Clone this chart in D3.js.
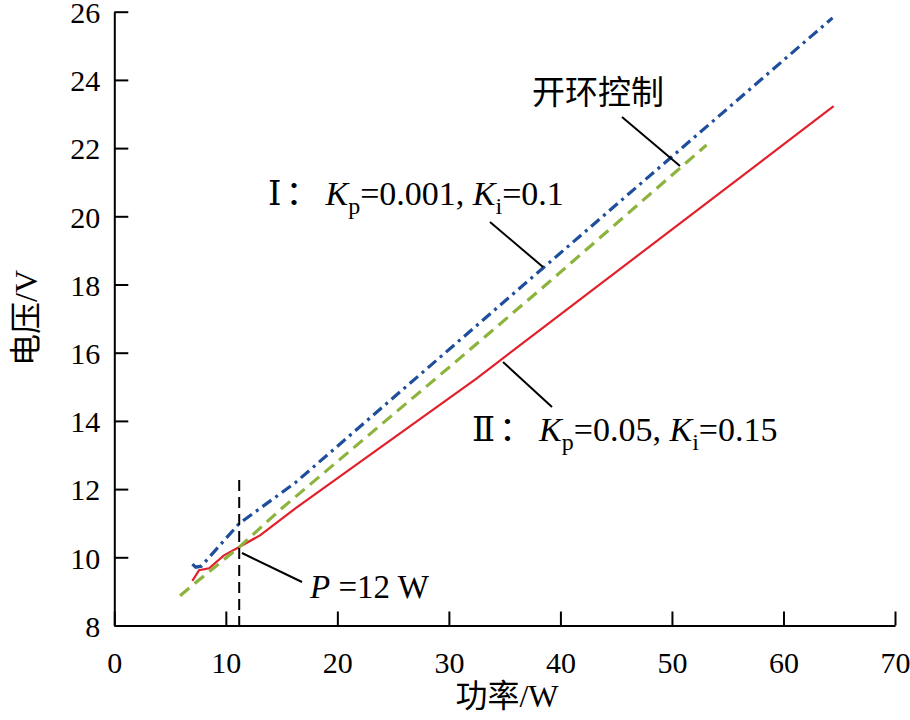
<!DOCTYPE html>
<html><head><meta charset="utf-8">
<script src="https://cdn.jsdelivr.net/npm/d3@7"></script>
<style>body{margin:0;background:#fff}
.serif{font-family:"Liberation Serif","Times New Roman",serif}
.cjk{font-family:"Noto Sans CJK SC",sans-serif}
.rom{font-family:"DejaVu Serif","Liberation Serif",serif}
</style>
</head><body><svg id="c" width="910" height="720"></svg>
<script>
// ---- data ----
const xTicks = [0,10,20,30,40,50,60,70];
const yTicks = [8,10,12,14,16,18,20,22,24,26];
const openLoopX = [5.9, 6.8, 11.2, 15.0, 30.7, 38.8, 53.1];
const openLoopY = [8.87, 9.12, 10.3, 11.43, 15.76, 18.02, 22.09];
const pid1X = [7.0, 7.3, 7.8, 11.2, 16.2, 38.5, 64.4];
const pid1Y = [9.80, 9.71, 9.74, 10.99, 12.18, 18.5, 25.82];
const pid2X = [7.0, 7.6, 8.5, 9.8, 11.2, 13.1, 16.3, 32.5, 64.5];
const pid2Y = [9.31, 9.62, 9.68, 10.05, 10.3, 10.65, 11.45, 15.25, 23.23];
const markerP = 11.2, markerTop = 12.27;

const svg = d3.select("#c");
const x = d3.scaleLinear().domain([0,70]).range([114.3,895]);
const y = d3.scaleLinear().domain([8,26]).range([625.5,11.7]);

// axes
const xa = svg.append("g").attr("transform",`translate(0,${y(8)})`)
  .call(d3.axisBottom(x).tickValues(xTicks).tickSizeInner(-14).tickSizeOuter(0).tickPadding(26).tickFormat(d3.format("d")));
const ya = svg.append("g").attr("transform",`translate(${x(0)},0)`)
  .call(d3.axisLeft(y).tickValues(yTicks).tickSizeInner(-14).tickSizeOuter(0).tickPadding(14).tickFormat(d3.format("d")));
[xa,ya].forEach(a=>{
  a.attr("font-family",null).attr("font-size",null);
  a.select(".domain").attr("stroke","#000").attr("stroke-width",2);
  a.selectAll(".tick line").attr("stroke","#000").attr("stroke-width",2);
  a.selectAll(".tick text").attr("class","serif").style("font-size","30px").attr("fill","#000");
});
ya.selectAll(".tick text").attr("dy","0.36em");
xa.selectAll(".tick text").attr("dy","0.71em");

// lines
const line = d3.line().x(d=>x(d[0])).y(d=>y(d[1]));
const zip = (a,b)=>a.map((v,i)=>[v,b[i]]);
svg.append("path").datum(zip(pid2X,pid2Y)).attr("d",line)
  .attr("fill","none").attr("stroke","#e2202b").attr("stroke-width",2.2);
svg.append("path").datum(zip(openLoopX,openLoopY)).attr("d",line)
  .attr("fill","none").attr("stroke","#8cb43c").attr("stroke-width",3.2).attr("stroke-dasharray","12,7");
svg.append("path").datum(zip(pid1X,pid1Y)).attr("d",line)
  .attr("fill","none").attr("stroke","#1f4e9c").attr("stroke-width",3.2).attr("stroke-dasharray","11,5,3,5");

// marker vertical dashed line
svg.append("line").attr("x1",x(markerP)).attr("x2",x(markerP)).attr("y1",y(markerTop)).attr("y2",y(8))
  .attr("stroke","#000").attr("stroke-width",2).attr("stroke-dasharray","11,6");

// leader lines
const leaders = [[622,117,680,166],[490,222,543,267],[503,362,552,407],[242,553,302,582]];
leaders.forEach(l=>svg.append("line").attr("x1",l[0]).attr("y1",l[1]).attr("x2",l[2]).attr("y2",l[3])
  .attr("stroke","#000").attr("stroke-width",2));

// annotations
svg.append("text").attr("x",532).attr("y",104).attr("class","cjk").style("font-size","33px").attr("fill","#000").text("开环控制");

function pidLabel(px,py,roman,kp,ki){
  const t = svg.append("text").attr("x",px).attr("y",py).attr("class","serif").style("font-size","34px").attr("fill","#000");
  t.append("tspan").attr("class","rom").text(roman);
  t.append("tspan").attr("class","cjk").attr("dx",4).text("：");
  t.append("tspan").attr("dx",6).style("font-style","italic").text("K");
  t.append("tspan").style("font-size","24px").attr("dy",9).text("p");
  t.append("tspan").attr("dy",-9).text("="+kp+", ");
  t.append("tspan").style("font-style","italic").text("K");
  t.append("tspan").style("font-size","24px").attr("dy",9).text("i");
  t.append("tspan").attr("dy",-9).text("="+ki);
}
pidLabel(268,205,"Ⅰ","0.001","0.1");
pidLabel(472,441,"Ⅱ","0.05","0.15");

const pt = svg.append("text").attr("x",310).attr("y",598).attr("class","serif").style("font-size","33px").attr("fill","#000");
pt.append("tspan").style("font-style","italic").text("P");
pt.append("tspan").text(" =12 W");

// axis titles
const xt = svg.append("text").attr("x",507).attr("y",707).attr("text-anchor","middle").style("font-size","32px").attr("fill","#000");
xt.append("tspan").attr("class","cjk").text("功率");
xt.append("tspan").attr("class","serif").text("/W");
const yt = svg.append("text").attr("transform","translate(37,318) rotate(-90)").attr("text-anchor","middle").style("font-size","32px").attr("fill","#000");
yt.append("tspan").attr("class","cjk").text("电压");
yt.append("tspan").attr("class","serif").text("/V");
</script></body></html>
